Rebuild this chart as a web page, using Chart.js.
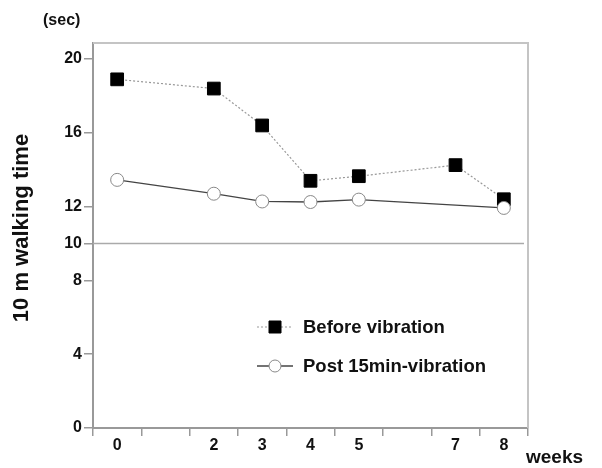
<!DOCTYPE html>
<html>
<head>
<meta charset="utf-8">
<script src="https://cdn.jsdelivr.net/npm/chart.js@4"></script>
<style>
  html, body { margin: 0; padding: 0; background: #fff; }
  #wrap { width: 602px; height: 468px; }
</style>
</head>
<body>
<div id="wrap"><canvas id="myChart" width="602" height="468"></canvas></div>
<script>
// weeks on the x axis (1 and 6 have no label)
const weeks = ['0', '1', '2', '3', '4', '5', '6', '7', '8'];
const weekLabels = ['0', '', '2', '3', '4', '5', '', '7', '8'];
const yTicks = [0, 4, 8, 10, 12, 16, 20];
const beforeVib = [18.9, null, 18.4, 16.4, 13.4, 13.65, null, 14.25, 12.4];
const postVib = [13.45, null, 12.7, 12.28, 12.25, 12.38, null, null, 11.93];
const refLine = 10;

const FONT = '"Liberation Sans", Arial, sans-serif';

const extras = {
	id: 'extras',
	beforeDatasetsDraw(chart) {
		const ctx = chart.ctx;
		const a = chart.chartArea;
		const y = chart.scales.y.getPixelForValue(refLine);
		ctx.save();
		ctx.strokeStyle = '#aaa';
		ctx.lineWidth = 1.5;
		ctx.beginPath();
		ctx.moveTo(a.left, y);
		ctx.lineTo(a.right - 4, y);
		ctx.stroke();
		// top and right frame
		ctx.strokeStyle = '#c4c4c4';
		ctx.lineWidth = 2;
		ctx.beginPath();
		ctx.moveTo(a.left, a.top);
		ctx.lineTo(a.right, a.top);
		ctx.lineTo(a.right, a.bottom);
		ctx.stroke();
		ctx.restore();
	},
	afterDraw(chart) {
		const ctx = chart.ctx;
		ctx.save();
		ctx.fillStyle = '#111';
		ctx.textBaseline = 'middle';
		ctx.textAlign = 'left';
		ctx.font = 'bold 16px ' + FONT;
		ctx.fillText('(sec)', 43, 21);
		ctx.font = 'bold 19px ' + FONT;
		ctx.fillText('weeks', 526, 458);
		ctx.save();
		ctx.translate(22, 228);
		ctx.rotate(-Math.PI / 2);
		ctx.textAlign = 'center';
		ctx.font = 'bold 22px ' + FONT;
		ctx.fillText('10 m walking time', 0, 0);
		ctx.restore();

		// legend
		const items = [
			{ y: 327, text: 'Before vibration', ds: 0 },
			{ y: 366, text: 'Post 15min-vibration', ds: 1 }
		];
		items.forEach(it => {
			const d = chart.data.datasets[it.ds];
			ctx.save();
			ctx.strokeStyle = d.borderColor;
			ctx.lineWidth = d.borderWidth;
			ctx.setLineDash(d.borderDash || []);
			ctx.beginPath();
			ctx.moveTo(257, it.y);
			ctx.lineTo(293, it.y);
			ctx.stroke();
			ctx.restore();
			ctx.fillStyle = d.pointBackgroundColor;
			ctx.strokeStyle = d.pointBorderColor;
			ctx.lineWidth = d.pointBorderWidth;
			ctx.beginPath();
			if (d.pointStyle === 'rect') {
				const s = 6;
				ctx.rect(275 - s, it.y - s, 2 * s, 2 * s);
			} else {
				ctx.arc(275, it.y, 6, 0, Math.PI * 2);
			}
			ctx.fill();
			ctx.stroke();
			ctx.fillStyle = '#111';
			ctx.font = 'bold 18.5px ' + FONT;
			ctx.textAlign = 'left';
			ctx.fillText(it.text, 303, it.y + 1);
		});
		ctx.restore();
	}
};

var ctx = document.getElementById('myChart').getContext('2d');
var myChart = new Chart(ctx, {
	type: 'line',
	data: {
		labels: weeks,
		datasets: [{
			label: 'Before vibration',
			data: beforeVib,
			borderColor: '#999',
			borderWidth: 1.2,
			borderDash: [2, 2],
			pointStyle: 'rect',
			pointRadius: 9,
			pointBackgroundColor: '#000',
			pointBorderColor: '#000',
			pointBorderWidth: 1,
			spanGaps: true,
			order: 1
		}, {
			label: 'Post 15min-vibration',
			data: postVib,
			borderColor: '#444',
			borderWidth: 1.3,
			pointStyle: 'circle',
			pointRadius: 6.5,
			pointBackgroundColor: '#fff',
			pointBorderColor: '#888',
			pointBorderWidth: 1,
			spanGaps: true,
			order: 0
		}]
	},
	options: {
		responsive: false,
		animation: false,
		events: [],
		layout: { padding: { left: 0, top: 43, right: 74, bottom: 0 } },
		plugins: { legend: { display: false }, tooltip: { enabled: false } },
		scales: {
			x: {
				type: 'category',
				offset: true,
				afterFit: s => { s.height = 40; },
				grid: { offset: true, drawOnChartArea: false, tickLength: 8, color: '#999', lineWidth: 1.5 },
				border: { display: true, color: '#999', width: 2 },
				ticks: {
					padding: 0,
					color: '#111',
					font: { family: FONT, size: 16, weight: 'bold' },
					maxRotation: 0,
					autoSkip: false,
					callback: (v, i) => weekLabels[i]
				}
			},
			y: {
				min: 0,
				max: 20.87,
				afterFit: s => { s.width = 93; },
				afterBuildTicks: s => { s.ticks = yTicks.map(v => ({ value: v })); },
				grid: { drawOnChartArea: false, tickLength: 9, color: '#999', lineWidth: 1.5 },
				border: { display: true, color: '#999', width: 2 },
				ticks: {
					padding: 2,
					color: '#111',
					font: { family: FONT, size: 16, weight: 'bold' }
				}
			}
		}
	},
	plugins: [extras]
});
</script>
</body>
</html>
